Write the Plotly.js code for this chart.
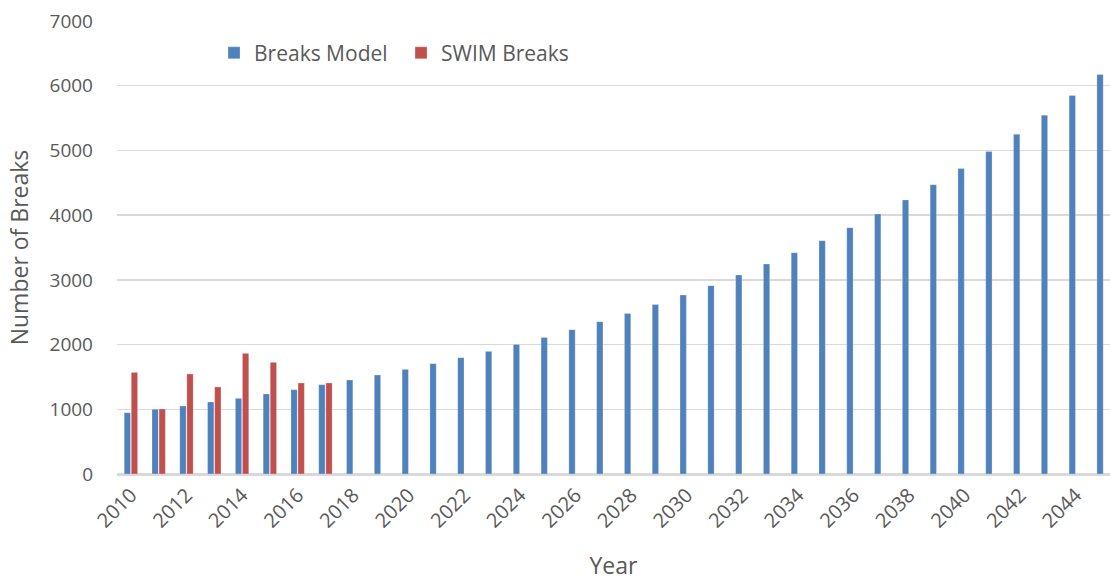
<!DOCTYPE html>
<html>
<head>
<meta charset="utf-8">
<script src="https://cdn.plot.ly/plotly-3.0.1.min.js"></script>
<style>html,body{margin:0;padding:0;background:#fff;}#chart{width:1110px;height:581px;}</style>
</head>
<body>
<div id="chart"></div>
<script>
const years = ["2010","2011","2012","2013","2014","2015","2016","2017","2018","2019","2020","2021","2022","2023","2024","2025","2026","2027","2028","2029","2030","2031","2032","2033","2034","2035","2036","2037","2038","2039","2040","2041","2042","2043","2044","2045"];
const breaksModel = [947,1000,1051,1113,1169,1236,1303,1380,1453,1530,1617,1705,1797,1895,2003,2111,2230,2354,2482,2620,2765,2910,3075,3245,3420,3605,3806,4019,4235,4471,4719,4982,5249,5543,5847,6172];
const swimBreaks = [1570,1005,1545,1345,1864,1725,1406,1406,null,null,null,null,null,null,null,null,null,null,null,null,null,null,null,null,null,null,null,null,null,null,null,null,null,null,null,null];
const tickLabels = ["2010","2012","2014","2016","2018","2020","2022","2024","2026","2028","2030","2032","2034","2036","2038","2040","2042","2044"];
const yTicks = [0,1000,2000,3000,4000,5000,6000,7000];

const font = "Open Sans, Liberation Sans, sans-serif";
const grey = "#595959";

const data = [
  {type:"bar", name:"Breaks Model", x:years, y:breaksModel,
   marker:{color:"#4F81BD", line:{color:"rgba(255,255,255,0.5)", width:0.5}}},
  {type:"bar", name:"SWIM Breaks", x:years, y:swimBreaks,
   marker:{color:"#C0504D", line:{color:"rgba(255,255,255,0.5)", width:0.5}}}
];

const layout = {
  width:1110, height:581,
  margin:{l:117, r:0, t:21, b:107},
  paper_bgcolor:"#fff", plot_bgcolor:"#fff",
  barmode:"group", bargap:0.49, bargroupgap:0.11,
  font:{family:font, color:grey, size:20},
  showlegend:true,
  legend:{orientation:"h", x:0.0977, xanchor:"left", y:0.929, yanchor:"middle",
          font:{family:font, size:21, color:grey}, bgcolor:"rgba(0,0,0,0)",
          itemwidth:30, entrywidth:142, tracegroupgap:0},
  xaxis:{type:"category", range:[-0.5,35.23], tickmode:"array", tickvals:tickLabels, ticktext:tickLabels,
         tickangle:-45, showgrid:false, showline:true, linecolor:"#d9d9d9", linewidth:1.5,
         ticks:"", tickfont:{family:font, size:20, color:grey},
         title:{text:"Year", font:{family:font, size:23, color:grey}, standoff:31}},
  yaxis:{range:[0,7000], tickmode:"array", tickvals:yTicks, showgrid:true, gridcolor:"#d9d9d9", gridwidth:1.5,
         zeroline:true, zerolinecolor:"#d9d9d9", zerolinewidth:1.5, showline:false, ticks:"",
         ticklabelstandoff:23, tickfont:{family:font, size:19, color:grey},
         title:{text:"Number of Breaks", font:{family:font, size:23, color:grey}, standoff:14}}
};

Plotly.newPlot("chart", data, layout, {displayModeBar:false, staticPlot:true});
</script>
</body>
</html>
